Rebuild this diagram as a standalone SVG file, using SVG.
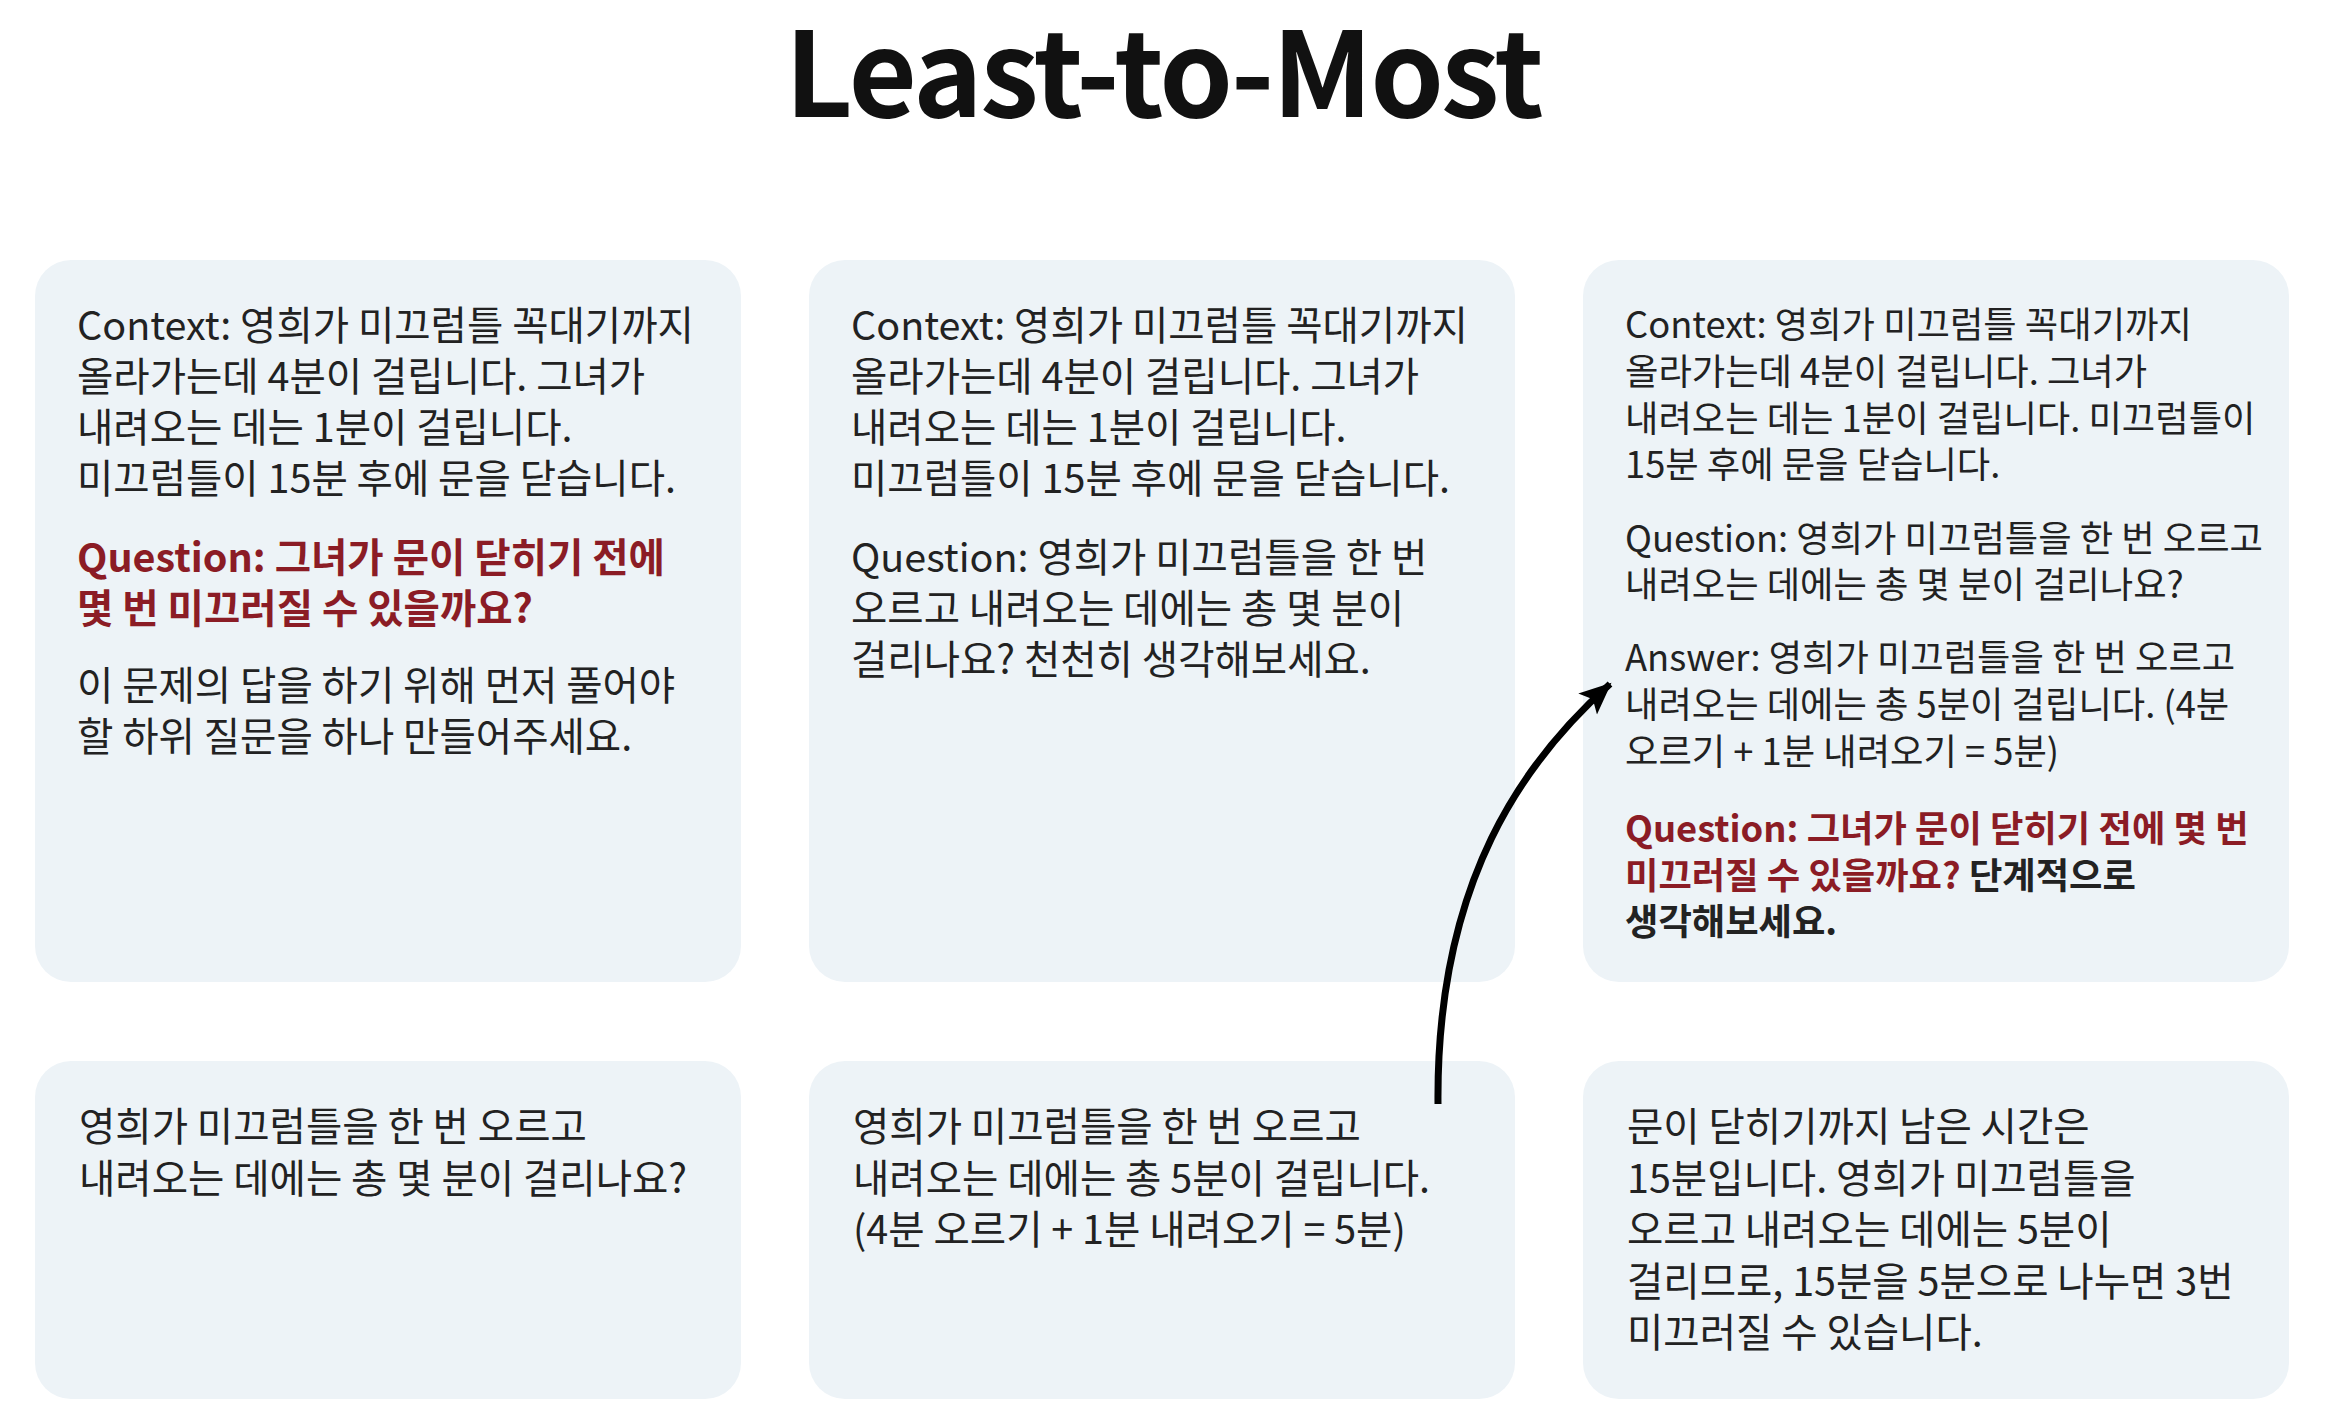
<svg xmlns="http://www.w3.org/2000/svg" width="2326" height="1420" viewBox="0 0 2326 1420">
<style>
.box{fill:#edf3f7;}
.t{font-family:"Noto Sans CJK KR","Noto Sans",sans-serif;font-size:39.5px;fill:#222;}
.s{font-size:36.3px;}
.red{fill:#8b1c25;font-weight:700;}
.b{font-weight:700;fill:#222;}
.title{font-family:"Noto Sans CJK KR","Noto Sans",sans-serif;font-size:118px;font-weight:700;fill:#111;text-anchor:middle;letter-spacing:-2.5px;}
.conn{fill:none;stroke:#000;stroke-width:7;}
</style>
<defs>
<marker id="ah" markerUnits="userSpaceOnUse" markerWidth="34" markerHeight="30" refX="30" refY="14" orient="auto">
<path d="M0,0 L32,14 L0,28 L7,14 Z" fill="#000"/>
</marker>
</defs>
<rect width="2326" height="1420" fill="#fff"/>
<text class="title" x="1163" y="117">Least-to-Most</text>

<g id="box1">
<rect class="box" x="35" y="260" width="706" height="722" rx="36"/>
<text class="t" x="77" y="340">Context: 영희가 미끄럼틀 꼭대기까지</text>
<text class="t" x="77" y="391">올라가는데 4분이 걸립니다. 그녀가</text>
<text class="t" x="77" y="442">내려오는 데는 1분이 걸립니다.</text>
<text class="t" x="77" y="493">미끄럼틀이 15분 후에 문을 닫습니다.</text>
<text class="t red" x="77" y="572">Question: 그녀가 문이 닫히기 전에</text>
<text class="t red" x="77" y="623">몇 번 미끄러질 수 있을까요?</text>
<text class="t" x="77" y="700">이 문제의 답을 하기 위해 먼저 풀어야</text>
<text class="t" x="77" y="751">할 하위 질문을 하나 만들어주세요.</text>
</g>

<g id="box2">
<rect class="box" x="809" y="260" width="706" height="722" rx="36"/>
<text class="t" x="851" y="340">Context: 영희가 미끄럼틀 꼭대기까지</text>
<text class="t" x="851" y="391">올라가는데 4분이 걸립니다. 그녀가</text>
<text class="t" x="851" y="442">내려오는 데는 1분이 걸립니다.</text>
<text class="t" x="851" y="493">미끄럼틀이 15분 후에 문을 닫습니다.</text>
<text class="t" x="851" y="572">Question: 영희가 미끄럼틀을 한 번</text>
<text class="t" x="851" y="623">오르고 내려오는 데에는 총 몇 분이</text>
<text class="t" x="851" y="674">걸리나요? 천천히 생각해보세요.</text>
</g>

<g id="box3">
<rect class="box" x="1583" y="260" width="706" height="722" rx="36"/>
<text class="t s" x="1625" y="338">Context: 영희가 미끄럼틀 꼭대기까지</text>
<text class="t s" x="1625" y="385">올라가는데 4분이 걸립니다. 그녀가</text>
<text class="t s" x="1625" y="432">내려오는 데는 1분이 걸립니다. 미끄럼틀이</text>
<text class="t s" x="1625" y="478">15분 후에 문을 닫습니다.</text>
<text class="t s" x="1625" y="552">Question: 영희가 미끄럼틀을 한 번 오르고</text>
<text class="t s" x="1625" y="598">내려오는 데에는 총 몇 분이 걸리나요?</text>
<text class="t s" x="1625" y="671">Answer: 영희가 미끄럼틀을 한 번 오르고</text>
<text class="t s" x="1625" y="718">내려오는 데에는 총 5분이 걸립니다. (4분</text>
<text class="t s" x="1625" y="765">오르기 + 1분 내려오기 = 5분)</text>
<text class="t s red" x="1625" y="842">Question: 그녀가 문이 닫히기 전에 몇 번</text>
<text class="t s red" x="1625" y="889">미끄러질 수 있을까요?<tspan class="b"> 단계적으로</tspan></text>
<text class="t s b" x="1625" y="935">생각해보세요.</text>
</g>

<g id="box4">
<rect class="box" x="35" y="1061" width="706" height="338" rx="36"/>
<text class="t" x="79" y="1141">영희가 미끄럼틀을 한 번 오르고</text>
<text class="t" x="79" y="1193">내려오는 데에는 총 몇 분이 걸리나요?</text>
</g>

<g id="box5">
<rect class="box" x="809" y="1061" width="706" height="338" rx="36"/>
<text class="t" x="853" y="1141">영희가 미끄럼틀을 한 번 오르고</text>
<text class="t" x="853" y="1193">내려오는 데에는 총 5분이 걸립니다.</text>
<text class="t" x="853" y="1244">(4분 오르기 + 1분 내려오기 = 5분)</text>
</g>

<g id="box6">
<rect class="box" x="1583" y="1061" width="706" height="338" rx="36"/>
<text class="t" x="1627" y="1141">문이 닫히기까지 남은 시간은</text>
<text class="t" x="1627" y="1193">15분입니다. 영희가 미끄럼틀을</text>
<text class="t" x="1627" y="1244">오르고 내려오는 데에는 5분이</text>
<text class="t" x="1627" y="1296">걸리므로, 15분을 5분으로 나누면 3번</text>
<text class="t" x="1627" y="1347">미끄러질 수 있습니다.</text>
</g>

<g id="connectors">
<path class="conn" d="M1438,1104 C1436,880 1525,760 1610,684" marker-end="url(#ah)"/>
</g>
</svg>
